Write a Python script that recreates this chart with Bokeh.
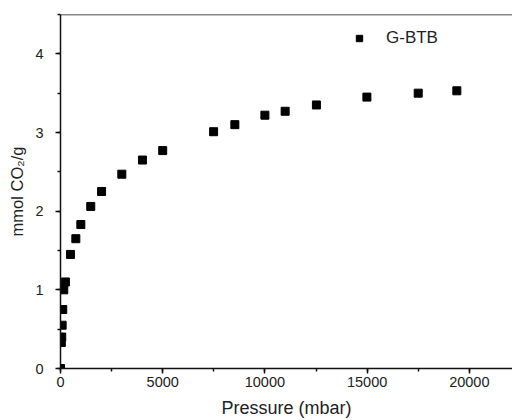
from bokeh.plotting import figure
from bokeh.models import Range1d, SingleIntervalTicker, Legend, LegendItem, ColumnDataSource, Span
from bokeh.embed import file_html
from bokeh.resources import INLINE

pressure = [0, 40, 60, 80, 110, 160, 240, 490, 750, 995, 1480, 2010, 3000, 4010,
            5000, 7490, 8530, 10000, 10990, 12520, 14990, 17500, 19390]
uptake = [0.0, 0.33, 0.40, 0.55, 0.75, 1.00, 1.10, 1.45, 1.65, 1.83, 2.06, 2.25, 2.47, 2.65,
          2.77, 3.01, 3.10, 3.22, 3.27, 3.35, 3.45, 3.50, 3.53]
series_name = "G-BTB"
x_max = 22113
y_max = 4.5

FONT = "Liberation Sans"
TXT = "#222222"
LINE = "#111111"

p = figure(width=512, height=420, output_backend="svg", toolbar_location=None,
           x_range=Range1d(0, x_max), y_range=Range1d(0, y_max),
           min_border_left=60, min_border_right=0, min_border_top=14, min_border_bottom=52)

src = ColumnDataSource(dict(x=pressure, y=uptake))
r = p.scatter("x", "y", source=src, marker="square", size=8, fill_color="black", line_color="black")

p.grid.visible = False
p.outline_line_color = None
p.add_layout(Span(location=y_max, dimension="width", line_color=LINE, line_width=1.5))

p.xaxis.ticker = SingleIntervalTicker(interval=5000, num_minor_ticks=2)
p.yaxis.ticker = SingleIntervalTicker(interval=1, num_minor_ticks=2)

for ax in (p.xaxis[0], p.yaxis[0]):
    ax.axis_line_color = LINE
    ax.axis_line_width = 1.5
    ax.major_tick_line_color = LINE
    ax.major_tick_line_width = 1.5
    ax.minor_tick_line_color = LINE
    ax.minor_tick_line_width = 1.5
    ax.major_tick_in = 0
    ax.major_tick_out = 5
    ax.minor_tick_in = 0
    ax.minor_tick_out = 3
    ax.major_label_text_font = FONT
    ax.major_label_text_font_size = "14.5px"
    ax.major_label_text_color = TXT
    ax.axis_label_text_font = FONT
    ax.axis_label_text_font_style = "normal"
    ax.axis_label_text_color = TXT

xa = p.xaxis[0]
xa.axis_label = "Pressure (mbar)"
xa.axis_label_text_font_size = "18px"
xa.major_label_standoff = 3
xa.axis_label_standoff = 8

ya = p.yaxis[0]
ya.axis_label = "mmol CO\u2082/g"
ya.axis_label_text_font_size = "16.5px"
ya.major_label_standoff = 12
ya.axis_label_standoff = 6

legend = Legend(items=[LegendItem(label=series_name, renderers=[r])],
                location=(291, 320), padding=0, margin=0,
                glyph_width=16, glyph_height=20, label_standoff=19,
                label_text_font=FONT, label_text_font_size="17px", label_text_color=TXT,
                border_line_color=None, background_fill_alpha=0)
p.add_layout(legend)

open("out.html", "w").write(file_html(p, INLINE))
